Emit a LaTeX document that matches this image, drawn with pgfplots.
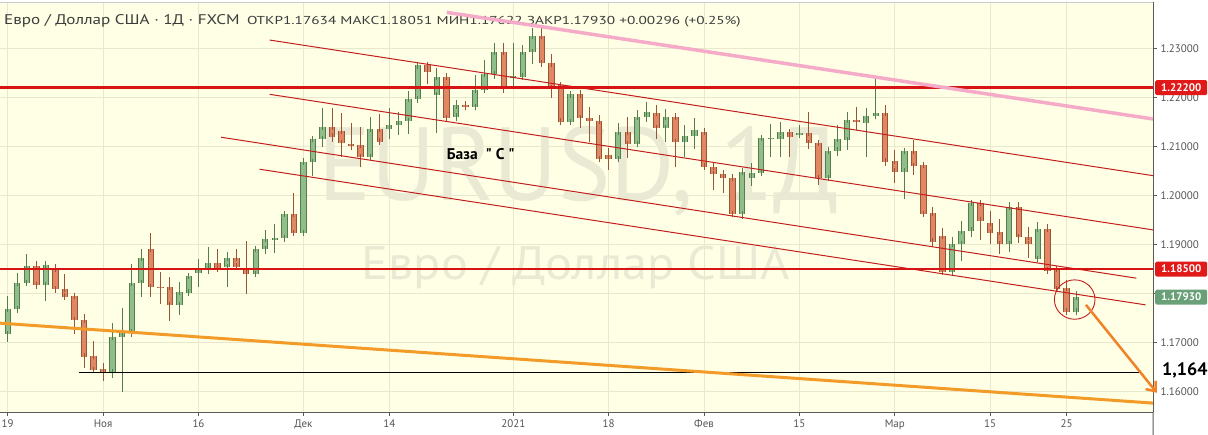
\documentclass[border=0pt]{standalone}
\usepackage{fontspec}
\setmainfont{PT Sans}
\newfontfamily\plainq{PT Sans}[Ligatures=TeXOff]
\usepackage{pgfplots}
\usepackage{pgfplotstable}
\pgfplotsset{compat=1.18}
\usetikzlibrary{arrows.meta}

\definecolor{bgy}{RGB}{255,255,230}
\definecolor{gridc}{RGB}{232,232,205}
\definecolor{axisg}{RGB}{90,90,90}
\definecolor{labg}{RGB}{85,85,85}
\definecolor{gfill}{RGB}{143,190,138}
\definecolor{gedge}{RGB}{85,125,75}
\definecolor{rfill}{RGB}{225,135,100}
\definecolor{redge}{RGB}{150,85,55}
\definecolor{hred}{RGB}{215,20,20}
\definecolor{chred}{RGB}{195,30,30}
\definecolor{oran}{RGB}{242,155,40}
\definecolor{pinkl}{RGB}{245,170,200}
\definecolor{arrowor}{RGB}{240,130,40}
\definecolor{tagred}{RGB}{225,25,25}
\definecolor{taggreen}{RGB}{105,160,120}
\definecolor{wm}{RGB}{234,234,212}
\definecolor{hdr}{RGB}{60,60,60}

% bullish candles: index, open, high, low, close
\pgfplotstableread{
i o h l c
0 1.17175 1.17955 1.17024 1.17684
1 1.17684 1.18418 1.17603 1.18214
2 1.18214 1.18811 1.18194 1.18566
4 1.18173 1.18668 1.17860 1.18587
11 1.16401 1.17405 1.16291 1.17114
12 1.17114 1.17705 1.16006 1.17208
13 1.17216 1.18607 1.17114 1.18214
14 1.18214 1.18913 1.17941 1.18723
18 1.17766 1.18247 1.17568 1.18037
19 1.18023 1.18383 1.17996 1.18363
20 1.18418 1.18703 1.18128 1.18485
21 1.18519 1.18959 1.18404 1.18621
23 1.18540 1.18845 1.18145 1.18723
26 1.18397 1.18974 1.18336 1.18907
27 1.18907 1.19300 1.18817 1.19110
28 1.19110 1.19422 1.18837 1.19131
29 1.19131 1.19652 1.19061 1.19626
31 1.19233 1.20772 1.19233 1.20678
32 1.20678 1.21180 1.20399 1.21153
33 1.21147 1.21778 1.20996 1.21391
38 1.20780 1.21595 1.20760 1.21350
40 1.21350 1.21778 1.21147 1.21432
41 1.21432 1.21709 1.21234 1.21520
42 1.21520 1.22137 1.21255 1.21962
43 1.21962 1.22707 1.21892 1.22654
45 1.22049 1.22600 1.21281 1.22410
47 1.21607 1.21947 1.21520 1.21839
49 1.21799 1.22456 1.21744 1.22151
50 1.22151 1.22762 1.22110 1.22477
51 1.22477 1.23108 1.22375 1.22930
53 1.22410 1.23108 1.22192 1.22436
54 1.22422 1.23068 1.22355 1.22930
55 1.22930 1.23420 1.22681 1.23251
59 1.21493 1.22110 1.21438 1.22063
64 1.20740 1.21473 1.20740 1.21289
66 1.21045 1.21744 1.20996 1.21607
67 1.21607 1.21907 1.21505 1.21709
69 1.21371 1.21758 1.21098 1.21595
71 1.21086 1.21438 1.20793 1.21208
72 1.21208 1.21575 1.20943 1.21330
77 1.19619 1.20487 1.19517 1.20487
78 1.20365 1.20658 1.20196 1.20455
79 1.20455 1.21234 1.20420 1.21167
80 1.21153 1.21459 1.20778 1.21180
81 1.21153 1.21493 1.20778 1.21289
83 1.21249 1.21438 1.21167 1.21269
86 1.20353 1.20964 1.20332 1.20915
87 1.20915 1.21438 1.20807 1.21147
88 1.21133 1.21709 1.20929 1.21540
90 1.21485 1.21778 1.20778 1.21621
91 1.21621 1.22389 1.21554 1.21689
94 1.20487 1.20964 1.19925 1.20909
99 1.18450 1.19151 1.18363 1.19014
100 1.19008 1.19489 1.18674 1.19285
101 1.19285 1.19896 1.19151 1.19843
105 1.19008 1.19876 1.18858 1.19774
108 1.18703 1.19469 1.18689 1.19314
112 1.17634 1.18051 1.17622 1.17930
}\greenc

% bearish candles: index, open, high, low, close
\pgfplotstableread{
i o h l c
3 1.18566 1.18668 1.18098 1.18173
5 1.18511 1.18607 1.18023 1.18092
6 1.18092 1.18410 1.17929 1.17941
7 1.17955 1.17976 1.17175 1.17461
8 1.17461 1.17589 1.16495 1.16719
9 1.16727 1.17039 1.16414 1.16442
10 1.16462 1.16585 1.16210 1.16407
15 1.18907 1.19232 1.17941 1.18129
16 1.18133 1.18444 1.17792 1.18128
17 1.18133 1.18336 1.17452 1.17766
22 1.18621 1.18913 1.18438 1.18505
24 1.18723 1.18913 1.18505 1.18552
25 1.18505 1.19082 1.17996 1.18397
30 1.19619 1.20047 1.19178 1.19233
34 1.21391 1.21778 1.21098 1.21200
35 1.21322 1.21689 1.20793 1.21065
36 1.21057 1.21473 1.20929 1.21016
37 1.21024 1.21391 1.20589 1.20780
39 1.21350 1.21662 1.21051 1.21098
44 1.22654 1.22721 1.22273 1.22524
46 1.22410 1.22500 1.21534 1.21575
48 1.21839 1.21927 1.21744 1.21799
52 1.22930 1.23108 1.22151 1.22165
56 1.23251 1.23414 1.22640 1.22695
57 1.22695 1.22884 1.21988 1.22186
58 1.22253 1.22314 1.21479 1.21505
60 1.22063 1.22151 1.21377 1.21575
61 1.21575 1.21811 1.21098 1.21520
62 1.21520 1.21642 1.20725 1.20746
63 1.20821 1.20964 1.20522 1.20740
65 1.21289 1.21595 1.20760 1.21045
68 1.21676 1.21846 1.21153 1.21371
70 1.21595 1.21689 1.20589 1.21086
73 1.21289 1.21371 1.20556 1.20589
74 1.20589 1.20691 1.20114 1.20434
75 1.20434 1.20522 1.20047 1.20353
76 1.20353 1.20434 1.19605 1.19619
82 1.21289 1.21322 1.20793 1.21188
84 1.21269 1.21709 1.20943 1.21065
85 1.21065 1.21065 1.20216 1.20353
89 1.21540 1.21811 1.21336 1.21493
92 1.21689 1.21846 1.20603 1.20691
93 1.20705 1.20929 1.20263 1.20487
95 1.20909 1.21133 1.20420 1.20603
96 1.20618 1.20658 1.19605 1.19626
97 1.19640 1.19774 1.18947 1.19062
98 1.19177 1.19334 1.18418 1.18450
102 1.19843 1.19876 1.19096 1.19489
103 1.19436 1.19687 1.19008 1.19245
104 1.19253 1.19524 1.18811 1.19008
106 1.19774 1.19876 1.19041 1.19151
107 1.19151 1.19367 1.18723 1.19008
109 1.19314 1.19422 1.18418 1.18471
110 1.18499 1.18540 1.18078 1.18098
111 1.18112 1.18281 1.17603 1.17636
}\redc

\pgfplotsset{
  wick/.style={draw=none, mark=none, forget plot,
    error bars/.cd, y dir=plus, y explicit, error mark=none,
    error bar style={line width=1pt, draw=#1}},
  bodyedge/.style={draw=none, mark=none, forget plot,
    error bars/.cd, y dir=both, y explicit, error mark=none,
    error bar style={line width=6.4pt, draw=#1}},
  bodyfill/.style 2 args={draw=none, mark=none, forget plot,
    error bars/.cd, y dir=both, y explicit,
    error bar style={line width=4.4pt, draw=#1},
    error mark options={line width=1pt, mark size=3.2pt, draw=#2}},
}

\begin{document}
\begin{tikzpicture}
\path[use as bounding box, fill=white] (0,0) rectangle (1208pt,435pt);
\begin{axis}[
  at={(0pt,23pt)}, anchor=south west,
  scale only axis, width=1153pt, height=410pt,
  xmin=-0.81, xmax=120.07, ymin=1.15587, ymax=1.23943,
  axis x line*=bottom, axis y line*=right,
  axis line style={draw=axisg, line width=1pt, -},
  every outer x axis line/.append style={-},
  every outer y axis line/.append style={-},
  axis background/.style={fill=bgy},
  clip=false,
  xtick={0,10,20,31,40,53,63,73,83,93,103,111},
  xticklabels={19,Ноя,16,Дек,14,2021,18,Фев,15,Мар,15,25},
  ytick={1.16,1.17,1.18,1.19,1.20,1.21,1.22,1.23},
  yticklabels={1.16000,1.17000,{},1.19000,1.20000,1.21000,1.22000,1.23000},
  tick align=outside,
  major tick length=4pt,
  tick style={draw=axisg, line width=0.8pt},
  grid=major,
  major grid style={draw=gridc, line width=0.7pt},
  xticklabel style={font=\fontsize{11}{13}\selectfont, text=labg},
  yticklabel style={font=\fontsize{11}{13}\selectfont, text=labg},
]
% watermarks
\node[text=wm, font=\fontsize{104}{110}\selectfont, inner sep=0, anchor=base]
  at (rel axis cs:0.5022,0.517) {\scalebox{0.947}[1]{EURUSD, 1Д}};
\node[text=wm, font=\fontsize{47}{50}\selectfont, inner sep=0, anchor=base]
  at (rel axis cs:0.4996,0.3232) {\scalebox{1.07}[1]{Евро / Доллар США}};
% header
\node[anchor=base west, inner sep=0, text=hdr, font=\fontsize{14}{16}\selectfont] (h1)
  at ([xshift=4pt, yshift=-22pt]rel axis cs:0,1) {\scalebox{1.22}[1]{Евро / Доллар США · 1Д · FXCM}};
\node[anchor=base west, inner sep=0, text=hdr, font=\fontsize{11.5}{13}\selectfont]
  at ([xshift=7pt]h1.base east) {\scalebox{1.33}[1]{ОТКР1.17634 МАКС1.18051 МИН1.17622 ЗАКР1.17930 +0.00296 (+0.25\%)}};
% candles
\addplot[wick=gedge] table[x=i, y=l, y error plus expr=\thisrow{h}-\thisrow{l}] {\greenc};
\addplot[wick=redge] table[x=i, y=l, y error plus expr=\thisrow{h}-\thisrow{l}] {\redc};
\addplot[bodyedge=gedge] table[x=i, y expr=0.5*(\thisrow{o}+\thisrow{c}), y error expr=0.5*abs(\thisrow{c}-\thisrow{o})] {\greenc};
\addplot[bodyedge=redge] table[x=i, y expr=0.5*(\thisrow{o}+\thisrow{c}), y error expr=0.5*abs(\thisrow{c}-\thisrow{o})] {\redc};
\addplot[bodyfill={gfill}{gedge}] table[x=i, y expr=0.5*(\thisrow{o}+\thisrow{c}), y error expr=0.5*abs(\thisrow{c}-\thisrow{o})] {\greenc};
\addplot[bodyfill={rfill}{redge}] table[x=i, y expr=0.5*(\thisrow{o}+\thisrow{c}), y error expr=0.5*abs(\thisrow{c}-\thisrow{o})] {\redc};
% text label
\node[anchor=base west, inner sep=0, font=\plainq\bfseries\fontsize{15.5}{17}\selectfont]
  at ([xshift=446.7pt, yshift=252.7pt]rel axis cs:0,0) {База~~" С "};
% channel lines
\addplot[chred, line width=1pt] coordinates {(27.46,1.23169) (120.07,1.20405)};
\addplot[chred, line width=1pt] coordinates {(27.46,1.22063) (120.07,1.19300)};
\addplot[chred, line width=1pt] coordinates {(22.37,1.21188) (118.32,1.18316)};
\addplot[chred, line width=1pt] coordinates {(26.41,1.20536) (119.29,1.17772)};
% levels
\addplot[hred, line width=2.6pt] coordinates {(-0.81,1.222) (120.07,1.222)};
\addplot[hred, line width=2.6pt] coordinates {(-0.81,1.185) (120.07,1.185)};
\addplot[black, line width=1pt] coordinates {(7.52,1.164) (118.7,1.164)};
\addplot[oran, line width=3pt] coordinates {(-0.81,1.17399) (120.07,1.15770)};
\addplot[pinkl, line width=3.5pt] coordinates {(46.03,1.23733) (120.07,1.21560)};
% circle and arrow
\draw[chred, line width=0.9pt] (axis cs:111.86,1.1788) ellipse [x radius=20.3pt, y radius=19.7pt];
\draw[arrowor, line width=2.5pt, -{Straight Barb[length=8pt,width=13pt]}]
  (axis cs:113.04,1.17772) -- (axis cs:120.48,1.15980);
% price tags
\node[fill=tagred, text=white, font=\bfseries\fontsize{11}{13}\selectfont, anchor=west,
  minimum width=52pt, minimum height=15pt, inner sep=0, rounded corners=1.5pt]
  at ([xshift=2pt]axis cs:120.07,1.222) {1.22200};
\node[fill=tagred, text=white, font=\bfseries\fontsize{11}{13}\selectfont, anchor=west,
  minimum width=52pt, minimum height=15pt, inner sep=0, rounded corners=1.5pt]
  at ([xshift=2pt]axis cs:120.07,1.185) {1.18500};
\node[fill=taggreen, text=white, font=\bfseries\fontsize{11}{13}\selectfont, anchor=west,
  minimum width=52pt, minimum height=15pt, inner sep=0, rounded corners=1.5pt]
  at ([xshift=2pt]axis cs:120.07,1.1793) {1.17930};
\node[anchor=base west, inner sep=0, font=\bfseries\fontsize{18}{20}\selectfont]
  at ([xshift=9pt]axis cs:120.07,1.16326) {1,164};
% top border and axis extension
\draw[draw=gray!40, line width=0.8pt] (rel axis cs:0,1) -- (rel axis cs:1,1);
\draw[axisg, line width=1pt] (rel axis cs:1,0) -- ++(0,-23pt);
\end{axis}
\end{tikzpicture}
\end{document}
